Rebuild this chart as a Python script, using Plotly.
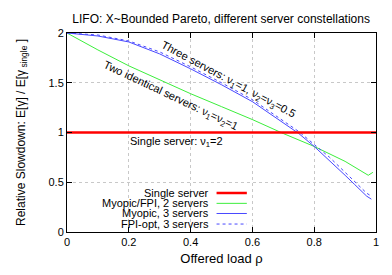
import plotly.graph_objects as go

# Offered load values
rho = [0.0, 0.1, 0.2, 0.3, 0.4, 0.5, 0.6, 0.7, 0.75, 0.8, 0.85, 0.9, 0.93, 0.95, 0.97, 0.985]
rho_green = [0.0, 0.1, 0.2, 0.3, 0.4, 0.5, 0.6, 0.7, 0.8, 0.9, 0.95, 0.975, 0.99]

single_x = [0.0, 1.0]
single_y = [1.0, 1.0]
two_servers = [2.0, 1.83, 1.67, 1.53, 1.39, 1.26, 1.13, 0.99, 0.86, 0.71, 0.62, 0.57, 0.60]
myopic3 = [2.0, 1.97, 1.91, 1.79, 1.64, 1.48, 1.31, 1.10, 0.99, 0.86, 0.72, 0.57, 0.48, 0.42, 0.36, 0.33]
fpi3 = [2.0, 1.98, 1.92, 1.81, 1.66, 1.50, 1.33, 1.12, 1.01, 0.88, 0.75, 0.60, 0.51, 0.45, 0.39, 0.36]

legend_names = ["Single server", "Myopic/FPI, 2 servers", "Myopic, 3 servers", "FPI-opt, 3 servers"]

RED = "#ff0000"
GREEN = "#3cee3c"
BLUE = "#4848ff"
FONT = "Liberation Sans, Arial, sans-serif"

fig = go.Figure()
fig.add_trace(go.Scatter(x=rho_green, y=two_servers, mode="lines",
                         line=dict(color=GREEN, width=1), showlegend=False))
fig.add_trace(go.Scatter(x=rho, y=fpi3, mode="lines",
                         line=dict(color=BLUE, width=1, dash="dot"), showlegend=False))
fig.add_trace(go.Scatter(x=rho, y=myopic3, mode="lines",
                         line=dict(color=BLUE, width=1), showlegend=False))
fig.add_trace(go.Scatter(x=single_x, y=single_y, mode="lines",
                         line=dict(color=RED, width=2.5), showlegend=False))

# Manual legend (text right, sample line right of text)
styles = [dict(color=RED, width=2.5), dict(color=GREEN, width=1),
          dict(color=BLUE, width=1), dict(color=BLUE, width=1, dash="dot")]
ys = [0.196, 0.144, 0.093, 0.040]
for name, st, yy in zip(legend_names, styles, ys):
    fig.add_annotation(x=0.463, y=yy, xref="paper", yref="paper", text=name,
                       showarrow=False, xanchor="right", yanchor="middle", borderpad=0,
                       font=dict(family=FONT, size=11, color="black"))
    fig.add_shape(type="line", xref="paper", yref="paper", x0=0.484, x1=0.582,
                  y0=yy, y1=yy, line=st)

# Curve labels
fig.add_annotation(x=0.522, y=1.525, text="Three servers: ν<sub>1</sub>=1, ν<sub>2</sub>=ν<sub>3</sub>=0.5",
                   showarrow=False, textangle=28, borderpad=0,
                   font=dict(family=FONT, size=11, color="black"))
fig.add_annotation(x=0.335, y=1.37, text="Two identical servers: ν<sub>1</sub>=ν<sub>2</sub>=1",
                   showarrow=False, textangle=25.3, borderpad=0,
                   font=dict(family=FONT, size=11, color="black"))
fig.add_annotation(x=0.353, y=0.905, text="Single server: ν<sub>1</sub>=2",
                   showarrow=False, borderpad=0,
                   font=dict(family=FONT, size=11, color="black"))

axis_common = dict(showline=True, mirror="ticks", linecolor="black", linewidth=1,
                   ticks="inside", ticklen=5, tickcolor="black",
                   showgrid=True, gridcolor="#c8c8c8", griddash="dot", gridwidth=1,
                   zeroline=False, tickfont=dict(family=FONT, size=11, color="black"))

fig.update_xaxes(range=[0, 1], dtick=0.2, tick0=0,
                 title=dict(text="Offered load ρ", font=dict(family=FONT, size=13, color="black"), standoff=6),
                 **axis_common)
fig.update_yaxes(range=[0, 2], dtick=0.5, tick0=0,
                 title=dict(text="Relative Slowdown: E[γ] / E[γ<sub> single</sub> ]",
                            font=dict(family=FONT, size=12, color="black"), standoff=20),
                 **axis_common)

# The page body adds an 8 px margin; compensate so the plot area lands where the reference has it.
fig.update_layout(
    width=384, height=267,
    margin=dict(l=59, r=16, t=25, b=36),
    paper_bgcolor="white", plot_bgcolor="white",
    title=dict(text="LIFO: X~Bounded Pareto, different server constellations",
               x=0.555, xanchor="center", y=0.975, yanchor="top",
               font=dict(family=FONT, size=12, color="black")),
    showlegend=False,
)

fig.write_html("out.html")
